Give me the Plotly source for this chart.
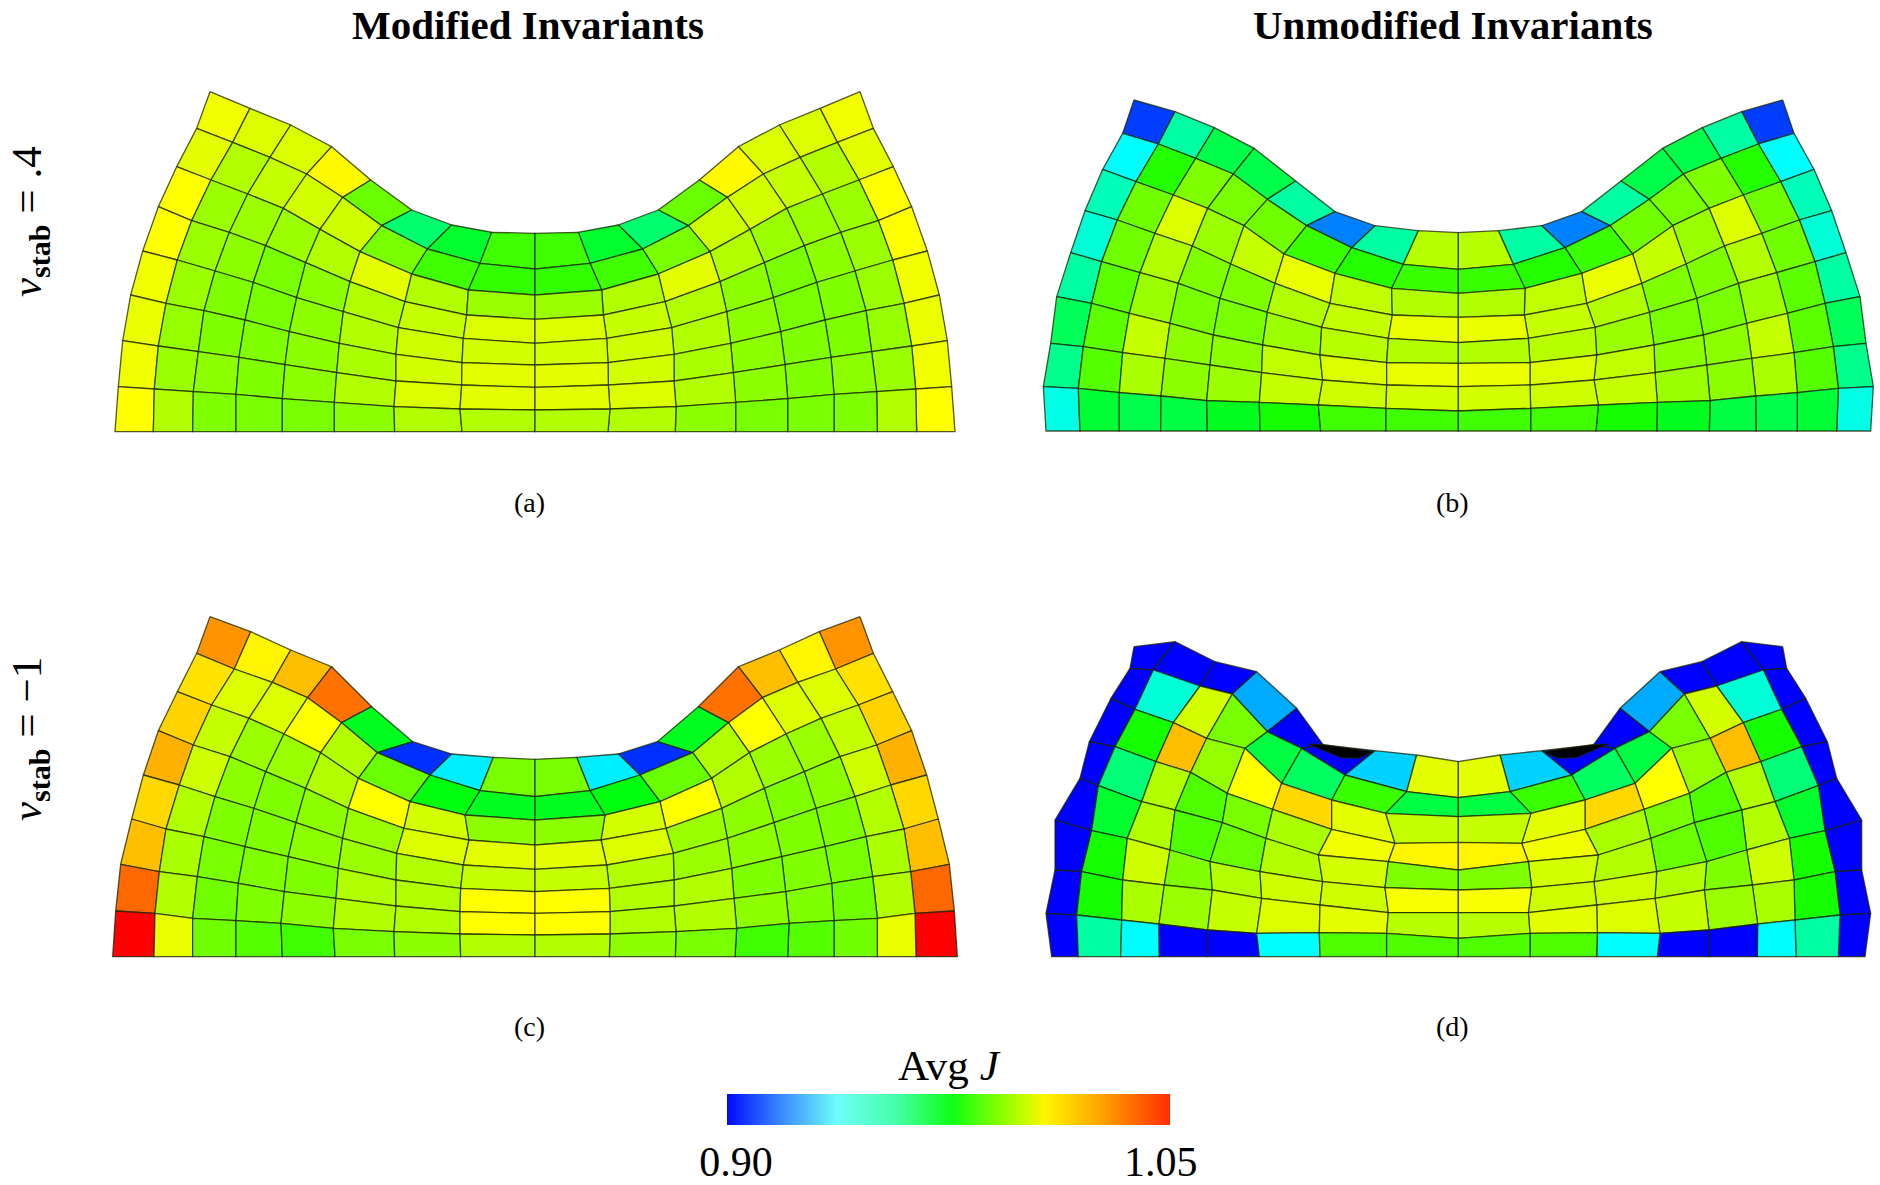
import numpy as np
import plotly.graph_objects as go

WIDTH, HEIGHT = 1880, 1185

# mesh nodes, left half only (the other half is the mirror image)
# each inner list is one mesh column, top edge to base
a_x = [[330, 290, 230, 175, 128, 92, 68, 55, 45],
       [450, 398, 333, 275, 232, 198, 175, 163, 160],
       [572, 510, 443, 388, 345, 312, 295, 280, 278],
       [695, 620, 550, 497, 460, 435, 417, 408, 408],
       [812, 728, 660, 617, 590, 568, 555, 547, 547],
       [935, 845, 780, 750, 730, 718, 710, 703, 703],
       [1055, 982, 935, 915, 895, 888, 888, 882, 884],
       [1175, 1140, 1105, 1100, 1090, 1086, 1085, 1080, 1086],
       [1305, 1305, 1305, 1305, 1305, 1305, 1305, 1305, 1305]]
a_y = [[65, 175, 290, 410, 543, 675, 812, 950, 1085],
       [115, 217, 330, 452, 570, 700, 828, 957, 1085],
       [165, 262, 372, 487, 603, 722, 845, 965, 1085],
       [230, 312, 415, 527, 637, 750, 862, 973, 1085],
       [330, 382, 478, 578, 683, 785, 884, 986, 1085],
       [420, 467, 545, 635, 725, 820, 908, 997, 1085],
       [465, 537, 612, 695, 773, 853, 933, 1010, 1085],
       [487, 580, 660, 735, 805, 878, 945, 1017, 1085],
       [490, 597, 675, 748, 820, 885, 952, 1020, 1085]]
a_j = [[1.006, 1.004, 1.008, 1.008, 1.006, 1.005, 1.006, 1.008],
       [1.003, .997, .994, .994, .994, .993, .994, .997],
       [1.003, 1.000, .994, .992, .990, .990, .992, .990],
       [1.009, 1.002, .994, .989, .989, .990, .990, .989],
       [.987, 1.001, .997, .992, .992, .992, .992, .989],
       [.957, .989, 1.004, .997, .997, .996, .997, .992],
       [.966, .981, .997, 1.000, 1.001, 1.002, 1.003, .997],
       [.981, .979, .994, 1.003, 1.002, 1.004, 1.004, .997]]

b_x = [[312, 278, 218, 165, 122, 80, 62, 40, 48],
       [435, 385, 318, 262, 215, 185, 160, 145, 150],
       [553, 497, 430, 375, 330, 298, 278, 268, 268],
       [672, 610, 533, 487, 445, 420, 405, 393, 392],
       [797, 712, 642, 602, 570, 550, 540, 530, 532],
       [915, 830, 762, 735, 712, 698, 695, 688, 690],
       [1035, 965, 915, 900, 875, 870, 878, 865, 872],
       [1165, 1120, 1085, 1087, 1075, 1070, 1070, 1068, 1068],
       [1285, 1285, 1285, 1285, 1285, 1285, 1285, 1285, 1285]]
b_y = [[60, 160, 268, 392, 518, 650, 790, 920, 1053],
       [95, 192, 305, 420, 545, 670, 800, 925, 1053],
       [143, 235, 345, 460, 578, 700, 818, 938, 1053],
       [205, 282, 385, 498, 610, 730, 835, 948, 1053],
       [303, 358, 437, 552, 655, 765, 855, 962, 1053],
       [395, 437, 522, 610, 697, 795, 878, 967, 1053],
       [437, 503, 580, 670, 742, 825, 900, 975, 1053],
       [452, 553, 625, 705, 775, 848, 915, 985, 1053],
       [458, 568, 640, 712, 788, 850, 920, 993, 1053]]
b_j = [[.909, .9375, .947, .943, .950, .960, .953, .941],
       [.950, .977, .988, .988, .985, .985, .984, .965],
       [.962, .990, 1.003, .997, .994, 1.000, .996, .962],
       [.962, .989, .994, .990, .989, .992, .992, .963],
       [.950, .988, 1.000, .990, .989, .992, .994, .968],
       [.919, .980, 1.005, .997, .994, .999, 1.000, .975],
       [.950, .977, .999, 1.000, .998, 1.003, 1.001, .981],
       [.998, .980, .997, 1.005, .997, 1.005, 1.002, .981]]

c_x = [[330, 290, 232, 175, 130, 95, 62, 47, 38],
       [452, 403, 335, 280, 238, 198, 178, 165, 162],
       [572, 517, 447, 390, 345, 312, 292, 278, 278],
       [695, 623, 552, 497, 462, 435, 415, 408, 408],
       [815, 725, 662, 617, 588, 565, 553, 543, 547],
       [938, 832, 775, 745, 728, 715, 708, 700, 705],
       [1055, 990, 930, 912, 890, 888, 888, 882, 884],
       [1180, 1140, 1095, 1107, 1090, 1082, 1080, 1080, 1082],
       [1305, 1305, 1305, 1305, 1305, 1305, 1305, 1305, 1305]]
c_y = [[50, 160, 275, 392, 525, 657, 793, 933, 1070],
       [95, 207, 315, 435, 555, 687, 815, 940, 1070],
       [150, 247, 355, 470, 590, 710, 830, 955, 1070],
       [200, 293, 402, 515, 625, 740, 850, 962, 1070],
       [320, 368, 458, 565, 668, 770, 875, 970, 1070],
       [425, 458, 535, 625, 715, 805, 895, 985, 1070],
       [462, 525, 605, 685, 760, 840, 918, 995, 1070],
       [472, 572, 645, 720, 795, 865, 935, 1002, 1070],
       [478, 590, 660, 735, 808, 875, 940, 1005, 1070]]
c_j = [[1.030, 1.014, 1.017, 1.024, 1.016, 1.021, 1.039, 1.060],
       [1.010, 1.003, 1.000, 1.001, .997, .996, .997, 1.005],
       [1.021, 1.003, .994, .992, .990, .989, .988, .988],
       [1.037, 1.008, .994, .990, .990, .990, .990, .984],
       [.968, .997, .997, .992, .992, .990, .992, .981],
       [.907, .987, 1.008, .994, .994, .997, .997, .989],
       [.935, .970, 1.002, 1.003, .997, .997, .997, .992],
       [.989, .968, .992, 1.004, 1.000, 1.008, 1.008, .997]]

d_x = [[312, 300, 243, 178, 150, 75, 75, 48, 65],
       [435, 370, 315, 255, 205, 185, 155, 140, 145],
       [555, 510, 430, 378, 335, 292, 278, 275, 272],
       [680, 607, 530, 482, 435, 420, 403, 387, 388],
       [800, 712, 645, 592, 577, 540, 547, 533, 533],
       [880, 815, 755, 728, 708, 690, 695, 680, 688],
       [1035, 945, 905, 905, 865, 878, 870, 868, 870],
       [1160, 1130, 1067, 1095, 1075, 1065, 1075, 1070, 1070],
       [1285, 1285, 1285, 1285, 1285, 1285, 1285, 1285, 1285]]
d_y = [[80, 145, 235, 365, 475, 600, 750, 880, 1010],
       [65, 150, 268, 380, 497, 632, 755, 885, 1010],
       [125, 198, 308, 425, 545, 655, 780, 900, 1010],
       [155, 222, 355, 457, 570, 690, 795, 912, 1010],
       [265, 335, 385, 520, 608, 725, 810, 930, 1010],
       [375, 385, 490, 568, 655, 755, 835, 940, 1010],
       [392, 465, 540, 628, 705, 785, 855, 938, 1010],
       [405, 515, 580, 670, 725, 803, 878, 940, 1010],
       [425, 533, 590, 667, 750, 810, 878, 955, 1010]]
d_j = [[.900, .900, .900, .900, .900, .900, .900, .900],
       [.900, .943, .975, .956, .966, .975, .975, .950],
       [.900, 1.002, 1.021, .997, .997, 1.001, .996, .9375],
       [.925, .989, .993, .983, .983, .990, .994, .900],
       [.900, .963, 1.008, .989, .987, .997, 1.000, .900],
       [.900, .959, 1.016, .996, .997, 1.001, 1.003, .9375],
       [.931, .980, 1.004, 1.006, 1.002, 1.001, 1.004, .983],
       [1.004, .963, 1.000, 1.010, .990, 1.007, .998, .983]]

# sliver of the inverted element in panel (d), below the colour range
inverted_x = [835, 885, 1030, 985, 930]
inverted_y = [372, 375, 395, 415, 412]
inverted_j = 0.89

# cell colours: J -> rgb
cell_j = [0.90, 0.9375, 0.972, 1.008, 1.06]
cell_r = [0, 0, 0, 255, 255]
cell_g = [0, 255, 255, 255, 0]
cell_b = [255, 255, 0, 0, 0]

# colour bar as printed, it is paler around the cyan
bar_scale = [[0, "rgb(0,10,255)"], [0.125, "rgb(60,140,255)"], [0.25, "rgb(110,255,250)"],
             [0.38, "rgb(70,255,170)"], [0.508, "rgb(15,255,20)"], [0.63, "rgb(150,255,0)"],
             [0.718, "rgb(255,245,0)"], [0.85, "rgb(255,160,0)"], [1, "rgb(255,45,0)"]]
bar_min, bar_max = 0.8968, 1.0533
bar_ticks = [0.90, 1.05]
bar_labels = ["0.90", "1.05"]

column_titles = ["Modified Invariants", "Unmodified Invariants"]
row_titles = ["<i>ν</i><sub><b>stab</b></sub> = .4", "<i>ν</i><sub><b>stab</b></sub> = −1"]
captions = ["(a)", "(b)", "(c)", "(d)"]

EDGE = "rgba(25,35,0,0.75)"
SERIF = "Liberation Serif"


def j_color(v):
    if v < cell_j[0]:
        return "rgb(0,0,0)"
    r = np.interp(v, cell_j, cell_r)
    g = np.interp(v, cell_j, cell_g)
    b = np.interp(v, cell_j, cell_b)
    return f"rgb({r:.0f},{g:.0f},{b:.0f})"


def px(x):
    return x / WIDTH


def py(y):
    return 1 - y / HEIGHT


fig = go.Figure()


def add_cell(xs, ys, v, axis):
    fig.add_trace(go.Scatter(
        x=xs + xs[:1], y=ys + ys[:1], mode="lines", fill="toself",
        fillcolor=j_color(v), line=dict(color=EDGE, width=1.3),
        hoverinfo="skip", showlegend=False, xaxis="x" + axis, yaxis="y" + axis,
    ))


def add_panel(nx, ny, nj, axis):
    nx = np.array(nx)
    ny = np.array(ny)
    centre = nx[-1][0]
    for i in range(8):
        for j in range(8):
            xs = [nx[i][j], nx[i + 1][j], nx[i + 1][j + 1], nx[i][j + 1]]
            ys = [ny[i][j], ny[i + 1][j], ny[i + 1][j + 1], ny[i][j + 1]]
            add_cell([int(q) for q in xs], [int(q) for q in ys], nj[i][j], axis)
            add_cell([int(2 * centre - q) for q in xs], [int(q) for q in ys], nj[i][j], axis)


add_panel(a_x, a_y, a_j, "")
add_panel(b_x, b_y, b_j, "2")
add_panel(c_x, c_y, c_j, "3")
add_panel(d_x, d_y, d_j, "4")

add_cell(inverted_x, inverted_y, inverted_j, "4")
add_cell([2 * 1285 - q for q in inverted_x], inverted_y, inverted_j, "4")

# empty trace, only carries the colour bar
fig.add_trace(go.Scatter(
    x=[None], y=[None], mode="markers", showlegend=False, hoverinfo="skip",
    marker=dict(
        color=[bar_min], colorscale=bar_scale, cmin=bar_min, cmax=bar_max, showscale=True,
        colorbar=dict(
            orientation="h", x=px(727), xanchor="left", y=py(1094), yanchor="top",
            lenmode="pixels", len=443, thicknessmode="pixels", thickness=31,
            xpad=0, ypad=0, outlinewidth=0, ticks="", tickvals=bar_ticks, ticktext=bar_labels,
            tickfont=dict(family=SERIF, size=42, color="black"),
        ),
    ),
))

# panel boxes in figure pixels: left, right, top, bottom; ranges follow the mesh units (3 per pixel)
panels = {
    "": (100, 980, 70, 450),
    "2": (1030, 1880, 80, 450),
    "3": (100, 980, 600, 980),
    "4": (1030, 1880, 620, 980),
}
layout = {}
for axis, (left, right, top, bottom) in panels.items():
    layout["xaxis" + axis] = dict(domain=[px(left), px(right)], range=[0, (right - left) * 3], visible=False)
    layout["yaxis" + axis] = dict(domain=[py(bottom), py(top)], range=[(bottom - top) * 3, 0], visible=False)

notes = []
for text, x in zip(column_titles, [528, 1453]):
    notes.append(dict(text=f"<b>{text}</b>", x=px(x), y=py(25), font=dict(size=41)))
for text, y in zip(row_titles, [222, 739]):
    notes.append(dict(text=text, x=px(30), y=py(y), textangle=-90, font=dict(size=43)))
for text, x, y in zip(captions, [529, 1452, 529, 1452], [502, 502, 1026, 1026]):
    notes.append(dict(text=text, x=px(x), y=py(y), font=dict(size=28)))
notes.append(dict(text="Avg <i>J</i>", x=px(949), y=py(1065), font=dict(size=43)))
for n in notes:
    n.update(xref="paper", yref="paper", showarrow=False, xanchor="center", yanchor="middle")
    n["font"].update(family=SERIF, color="black")

fig.update_layout(
    width=WIDTH, height=HEIGHT, margin=dict(l=0, r=0, t=0, b=0),
    paper_bgcolor="white", plot_bgcolor="white", showlegend=False,
    annotations=notes, **layout,
)

fig.write_html("out.html", config={"displayModeBar": False}, post_script="document.body.style.margin = '0';")
